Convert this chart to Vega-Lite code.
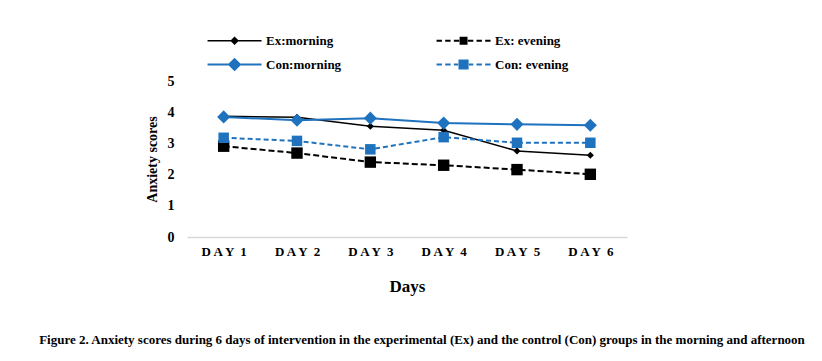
{
  "$schema": "https://vega.github.io/schema/vega-lite/v6.json",
  "autosize": "none",
  "width": 440,
  "height": 156,
  "padding": {"left": 187, "top": 81, "right": 195, "bottom": 124},
  "background": "white",
  "config": {
    "font": "Liberation Serif",
    "view": {"stroke": null},
    "axis": {"grid": false, "ticks": false, "labelFont": "Liberation Serif", "titleFont": "Liberation Serif", "labelFontWeight": "bold", "titleFontWeight": "bold", "labelColor": "#000000", "titleColor": "#000000"}
  },
  "title": {
    "text": "Figure 2. Anxiety scores during 6 days of intervention in the experimental (Ex) and the control (Con) groups in the morning and afternoon",
    "orient": "bottom",
    "anchor": "middle",
    "font": "Liberation Serif",
    "fontSize": 13,
    "fontWeight": "bold",
    "color": "#000000",
    "offset": 40,
    "dx": 15
  },
  "data": {
    "values": [
      {"day": "DAY 1", "group": "Ex:morning", "score": 3.87},
      {"day": "DAY 2", "group": "Ex:morning", "score": 3.84},
      {"day": "DAY 3", "group": "Ex:morning", "score": 3.55},
      {"day": "DAY 4", "group": "Ex:morning", "score": 3.42},
      {"day": "DAY 5", "group": "Ex:morning", "score": 2.76},
      {"day": "DAY 6", "group": "Ex:morning", "score": 2.62},
      {"day": "DAY 1", "group": "Ex: evening", "score": 2.91},
      {"day": "DAY 2", "group": "Ex: evening", "score": 2.69},
      {"day": "DAY 3", "group": "Ex: evening", "score": 2.40},
      {"day": "DAY 4", "group": "Ex: evening", "score": 2.30},
      {"day": "DAY 5", "group": "Ex: evening", "score": 2.16},
      {"day": "DAY 6", "group": "Ex: evening", "score": 2.01},
      {"day": "DAY 1", "group": "Con:morning", "score": 3.85},
      {"day": "DAY 2", "group": "Con:morning", "score": 3.74},
      {"day": "DAY 3", "group": "Con:morning", "score": 3.81},
      {"day": "DAY 4", "group": "Con:morning", "score": 3.65},
      {"day": "DAY 5", "group": "Con:morning", "score": 3.61},
      {"day": "DAY 6", "group": "Con:morning", "score": 3.58},
      {"day": "DAY 1", "group": "Con: evening", "score": 3.18},
      {"day": "DAY 2", "group": "Con: evening", "score": 3.08},
      {"day": "DAY 3", "group": "Con: evening", "score": 2.81},
      {"day": "DAY 4", "group": "Con: evening", "score": 3.20},
      {"day": "DAY 5", "group": "Con: evening", "score": 3.02},
      {"day": "DAY 6", "group": "Con: evening", "score": 3.02}
    ]
  },
  "encoding": {
    "x": {
      "field": "day",
      "type": "ordinal",
      "scale": {"type": "point", "padding": 0.5},
      "axis": {
        "title": "Days",
        "titleFontSize": 17,
        "titlePadding": 20,
        "labelFontSize": 13,
        "labelAngle": 0,
        "labelPadding": 8,
        "labelExpr": "'D A Y \u00a0' + slice(datum.label, 4)",
        "domainColor": "#d9d9d9",
        "domainWidth": 1.5
      }
    },
    "y": {
      "field": "score",
      "type": "quantitative",
      "scale": {"domain": [0, 5], "nice": false},
      "axis": {
        "title": "Anxiety scores",
        "titleFontSize": 14,
        "titlePadding": 8,
        "labelFontSize": 14,
        "labelPadding": 13,
        "values": [0, 1, 2, 3, 4, 5],
        "domain": false
      }
    },
    "color": {
      "field": "group",
      "type": "nominal",
      "scale": {
        "domain": ["Ex:morning", "Ex: evening", "Con:morning", "Con: evening"],
        "range": ["#000000", "#000000", "#1f72bd", "#1f72bd"]
      },
      "legend": {
        "title": null,
        "orient": "none",
        "legendX": 20,
        "legendY": -47,
        "columns": 2,
        "direction": "horizontal",
        "columnPadding": 90,
        "rowPadding": 7,
        "labelFont": "Liberation Serif",
        "labelFontSize": 13,
        "labelFontWeight": "bold",
        "labelColor": "#000000",
        "labelOffset": 46,
        "symbolStrokeWidth": 2,
        "encode": {
          "symbols": {
            "update": {
              "size": {"value": 2916},
              "shape": {"signal": "datum.value == 'Ex:morning' ? 'M-0.22,0L1.78,0M0.78,-0.12L0.9,0L0.78,0.12L0.66,0Z' : datum.value == 'Con:morning' ? 'M-0.22,0L1.78,0M0.78,-0.2L0.98,0L0.78,0.2L0.58,0Z' : datum.value == 'Ex: evening' ? 'M-0.22,0L-0.02,0M0.1,0L0.3,0M0.42,0L0.62,0M0.94,0L1.14,0M1.26,0L1.46,0M1.58,0L1.78,0M0.67,-0.11L0.89,-0.11L0.89,0.11L0.67,0.11Z' : 'M-0.22,0L-0.02,0M0.1,0L0.3,0M0.42,0L0.58,0M0.98,0L1.14,0M1.26,0L1.46,0M1.58,0L1.78,0M0.63,-0.15L0.93,-0.15L0.93,0.15L0.63,0.15Z'"},
              "fill": {"signal": "indexof(datum.value, 'Con') == 0 ? '#1f72bd' : '#000000'"},
              "stroke": {"signal": "indexof(datum.value, 'Con') == 0 ? '#1f72bd' : '#000000'"},
              "strokeDash": {"value": []},
              "strokeWidth": {"signal": "datum.value == 'Ex:morning' ? 1.5 : 2"},
              "opacity": {"value": 1}
            }
          }
        }
      }
    }
  },
  "layer": [
    {
      "transform": [{"filter": {"field": "group", "oneOf": ["Ex:morning"]}}],
      "mark": {"type": "line", "strokeWidth": 1.5}
    },
    {
      "transform": [{"filter": {"field": "group", "oneOf": ["Con:morning"]}}],
      "mark": {"type": "line", "strokeWidth": 2}
    },
    {
      "transform": [{"filter": {"field": "group", "oneOf": ["Ex: evening"]}}],
      "mark": {"type": "line", "strokeWidth": 2, "strokeDash": [6, 3]}
    },
    {
      "transform": [{"filter": {"field": "group", "oneOf": ["Con: evening"]}}],
      "mark": {"type": "line", "strokeWidth": 2, "strokeDash": [5, 3]}
    },
    {
      "transform": [{"filter": {"field": "group", "oneOf": ["Ex:morning"]}}],
      "mark": {"type": "point", "filled": true, "opacity": 1, "shape": "diamond", "size": 50}
    },
    {
      "transform": [{"filter": {"field": "group", "oneOf": ["Con:morning"]}}],
      "mark": {"type": "point", "filled": true, "opacity": 1, "shape": "diamond", "size": 170}
    },
    {
      "transform": [{"filter": {"field": "group", "oneOf": ["Ex: evening"]}}],
      "mark": {"type": "point", "filled": true, "opacity": 1, "shape": "square", "size": 130}
    },
    {
      "transform": [{"filter": {"field": "group", "oneOf": ["Con: evening"]}}],
      "mark": {"type": "point", "filled": true, "opacity": 1, "shape": "square", "size": 110}
    }
  ]
}
